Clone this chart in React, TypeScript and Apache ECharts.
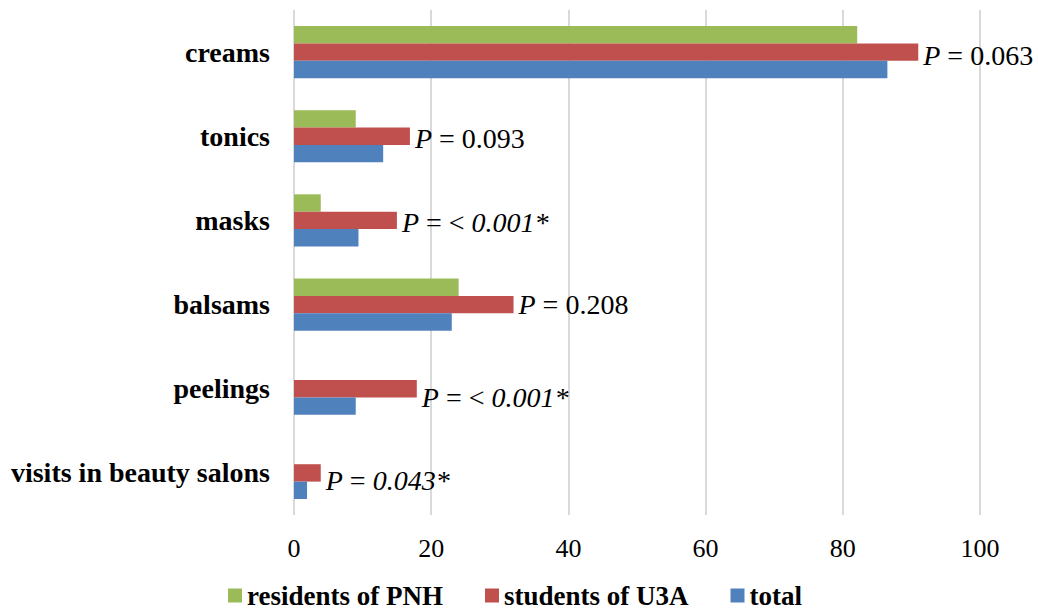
import React, { useEffect, useRef } from "react";
import * as echarts from "echarts";

const categories = [
  "creams",
  "tonics",
  "masks",
  "balsams",
  "peelings",
  "visits in beauty salons",
];
const seriesNames = ["residents of PNH", "students of U3A", "total"];
const residentsPNH = [82.1, 9.0, 3.9, 24.0, 0, 0];
const studentsU3A = [91.0, 16.9, 15.0, 32.0, 17.9, 3.9];
const totalValues = [86.5, 13.0, 9.4, 23.0, 9.0, 1.9];
// p-value annotation per category; significant ones are flagged with "*"
const pValues = ["0.063", "0.093", "< 0.001*", "0.208", "< 0.001*", "0.043*"];
const pSignificant = [false, false, true, false, true, true];
const xTicks = [0, 20, 40, 60, 80, 100];

const colors = ["#9BBB59", "#C0504D", "#4F81BD"];
const serif = "'Liberation Serif', 'Times New Roman', serif";

export default function App() {
  const ref = useRef<HTMLDivElement>(null);

  useEffect(() => {
    if (!ref.current) return;
    const chart = echarts.init(ref.current, undefined, { renderer: "svg" });

    const labelOffsets: Record<number, [number, number]> = {
      0: [0, 3],
      1: [0, 2],
      2: [0, 2],
      4: [0, 9],
      5: [0, 8],
    };

    const redData = studentsU3A.map((v, i) => {
      const sig = pSignificant[i];
      const pv = pValues[i];
      let text: string;
      if (sig) {
        if (pv.startsWith("<")) {
          text = "{p|P}{n| = < }{s|" + pv.slice(2) + "}";
        } else {
          text = "{p|P}{n| = }{s|" + pv + "}";
        }
      } else {
        text = "{p|P}{n| = " + pv + "}";
      }
      return {
        value: v,
        label: {
          show: true,
          position: "right" as const,
          distance: 5,
          offset: labelOffsets[i] || [0, 0],
          formatter: text,
        },
      };
    });

    const rich = {
      p: { fontFamily: serif, fontSize: 28, fontStyle: "italic", color: "#000" },
      n: { fontFamily: serif, fontSize: 28, color: "#000" },
      s: { fontFamily: serif, fontSize: 28, fontStyle: "italic", color: "#000" },
    };

    chart.setOption({
      animation: false,
      backgroundColor: "#ffffff",
      color: colors,
      grid: { left: 294, right: 58, top: 10, bottom: 96, containLabel: false },
      legend: {
        data: seriesNames,
        left: 228,
        top: 582,
        padding: 0,
        itemWidth: 14,
        itemHeight: 14,
        itemGap: 42,
        icon: "rect",
        textStyle: {
          fontFamily: serif,
          fontSize: 27,
          lineHeight: 24,
          fontWeight: "bold",
          color: "#000",
        },
      },
      xAxis: {
        type: "value",
        min: 0,
        max: 100,
        interval: 20,
        axisLine: { show: false },
        axisTick: { show: false },
        axisLabel: {
          fontFamily: serif,
          fontSize: 26,
          color: "#000",
          margin: 20,
          formatter: (v: number) => (xTicks.includes(v) ? String(v) : ""),
        },
        splitLine: { show: true, lineStyle: { color: "#D9D9D9", width: 2 } },
      },
      yAxis: {
        type: "category",
        data: categories,
        inverse: true,
        axisLine: { show: false },
        axisTick: { show: false },
        axisLabel: {
          fontFamily: serif,
          fontSize: 28,
          fontWeight: "bold",
          color: "#000",
          margin: 24,
        },
      },
      series: [
        {
          name: seriesNames[0],
          type: "bar",
          data: residentsPNH,
          barGap: "0%",
          barCategoryGap: "38%",
          itemStyle: { color: colors[0] },
        },
        {
          name: seriesNames[1],
          type: "bar",
          data: redData,
          barGap: "0%",
          barCategoryGap: "38%",
          itemStyle: { color: colors[1] },
          label: { rich },
        },
        {
          name: seriesNames[2],
          type: "bar",
          data: totalValues,
          barGap: "0%",
          barCategoryGap: "38%",
          itemStyle: { color: colors[2] },
        },
      ],
    });

    return () => chart.dispose();
  }, []);

  return (
    <div
      ref={ref}
      style={{ position: "fixed", left: 0, top: 0, width: 1038, height: 611 }}
    />
  );
}
